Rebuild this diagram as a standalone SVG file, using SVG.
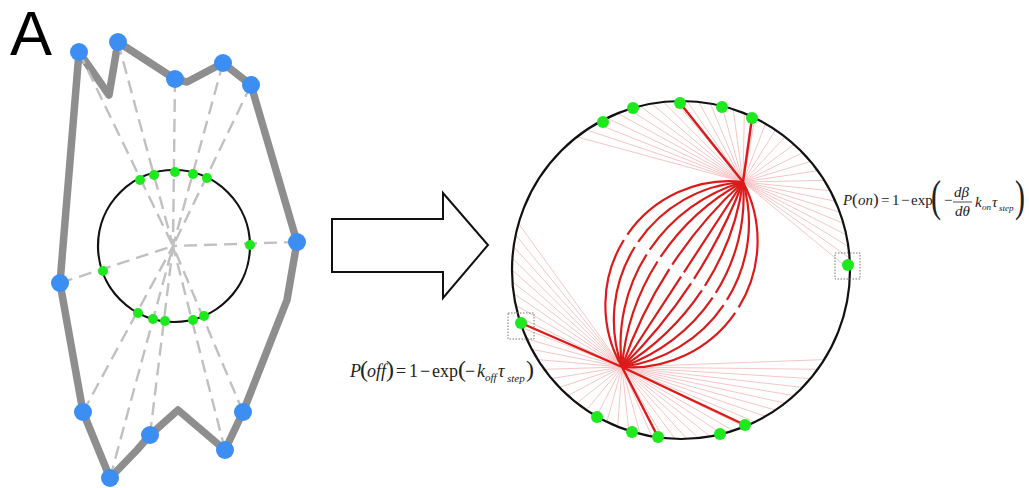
<svg xmlns="http://www.w3.org/2000/svg" width="1029" height="488" viewBox="0 0 1029 488">
<style>
.poly{fill:none;stroke:#8e8e8e;stroke-width:7.5;stroke-linejoin:round;stroke-linecap:round}
.blue{fill:#3d8ef2}
.green{fill:#1ee81e}
.dash{fill:none;stroke:#c0c0c0;stroke-width:2.4;stroke-dasharray:13 7}
.cell{fill:none;stroke:#111;stroke-width:2.2}
.ray{fill:none;stroke:#f6c6c6;stroke-width:1}
.mt{fill:none;stroke:#dd1a1a;stroke-width:2.2;stroke-dasharray:48.8 2.4 100}
.kf{fill:none;stroke:#dd1a1a;stroke-width:2.4}
.box{fill:none;stroke:#777;stroke-width:1;stroke-dasharray:1.5 1.5}
.m{font-family:"Liberation Serif","Times New Roman",serif;fill:#222}
.i{font-style:italic}
</style>
<g id="label-A"><text x="10" y="55" font-family="Liberation Sans, Arial, sans-serif" font-size="63" fill="#000">A</text></g>

<g id="left-cell">
  <path class="poly" d="M79 52L109 95L118 42L175 79L187 82L223 63L251 85L297 242L287 300L243 412L225 450L178 410L150 435L137 450L110 478L83 412L60 283Z"/>
  <g id="left-connectors">
    <path class="dash" d="M79 52L173 246M118 42L173 246M175 79L173 246M223 63L173 246M251 85L173 246M297 242L173 246M60 283L173 246M83 412L173 246M110 478L173 246M150 435L173 246M225 450L173 246M243 412L173 246"/>
  </g>
  <circle class="cell" cx="174" cy="246" r="76"/>
  <g id="left-blue-dots" class="blue">
    <circle cx="79" cy="52" r="9"/><circle cx="118" cy="42" r="9"/><circle cx="175" cy="79" r="9"/>
    <circle cx="223" cy="63" r="9"/><circle cx="251" cy="85" r="9"/><circle cx="297" cy="242" r="9"/>
    <circle cx="60" cy="283" r="9"/><circle cx="83" cy="412" r="9"/><circle cx="110" cy="478" r="9"/>
    <circle cx="150" cy="435" r="9"/><circle cx="225" cy="450" r="9"/><circle cx="243" cy="412" r="9"/>
  </g>
  <g id="left-green-dots" class="green">
    <circle cx="140" cy="180" r="5"/><circle cx="154" cy="175" r="5"/><circle cx="175" cy="172" r="5"/>
    <circle cx="193" cy="174" r="5"/><circle cx="207" cy="178" r="5"/><circle cx="250" cy="245" r="5"/>
    <circle cx="103" cy="271" r="5"/><circle cx="138" cy="313" r="5"/><circle cx="153" cy="319" r="5"/>
    <circle cx="165" cy="321" r="5"/><circle cx="193" cy="320" r="5"/><circle cx="204" cy="316" r="5"/>
  </g>
</g>

<g id="arrow">
  <polygon points="332,219 443,219 443,193 488,245 443,298 443,272 332,272" fill="#fff" stroke="#111" stroke-width="2" stroke-linejoin="miter"/>
</g>

<g id="right-cell">
  <g id="rays">
    <path class="ray" d="M743 182L850 270M743 182L849.6 258.2M743 182L848.4 246.5M743 182L846.3 234.9M743 182L843.5 223.4M743 182L839.8 212.2M743 182L835.4 201.3M743 182L830.2 190.7M743 182L824.3 180.4M743 182L817.7 170.7M743 182L810.5 161.4M743 182L802.6 152.6M743 182L794.1 144.4M743 182L785.1 136.8M743 182L775.5 129.9M743 182L765.5 123.6M743 182L755.1 118.1M743 182L744.3 113.3M743 182L733.2 109.3M743 182L721.9 106M743 182L710.3 103.6M743 182L698.7 101.9M743 182L686.9 101.1M743 182L675.1 101.1M743 182L663.3 101.9M743 182L651.7 103.6M743 182L640.1 106M743 182L628.8 109.3M743 182L617.7 113.3M743 182L606.9 118.1M743 182L596.5 123.6M743 182L586.5 129.9M743 182L576.9 136.8"/>
    <path class="ray" d="M622 367L824.3 359.6M622 367L817.7 369.3M622 367L810.5 378.6M622 367L802.6 387.4M622 367L794.1 395.6M622 367L785.1 403.2M622 367L775.5 410.1M622 367L765.5 416.4M622 367L755.1 421.9M622 367L744.3 426.7M622 367L733.2 430.7M622 367L721.9 434M622 367L710.3 436.4M622 367L698.7 438.1M622 367L686.9 438.9M622 367L675.1 438.9M622 367L663.3 438.1M622 367L651.7 436.4M622 367L640.1 434M622 367L628.8 430.7M622 367L617.7 426.7M622 367L606.9 421.9M622 367L596.5 416.4M622 367L586.5 410.1M622 367L576.9 403.2M622 367L567.9 395.6M622 367L559.4 387.4M622 367L551.5 378.6M622 367L544.3 369.3M622 367L537.7 359.6M622 367L531.8 349.3M622 367L526.6 338.7M622 367L522.2 327.8M622 367L518.5 316.6M622 367L515.7 305.1M622 367L513.6 293.5M622 367L512.4 281.8M622 367L512 270M622 367L512.4 258.2M622 367L513.6 246.5M622 367L515.7 234.9M622 367L518.5 223.4"/>
  </g>
  <circle class="cell" cx="681" cy="270" r="169" stroke-width="2.5"/>
  <g id="spindle">
    <path class="mt" pathLength="100" d="M622 367A123.8 123.8 0 0 1 743 182"/>
    <path class="mt" pathLength="100" d="M622 367A138.5 138.5 0 0 1 743 182"/>
    <path class="mt" pathLength="100" d="M622 367A169.4 169.4 0 0 1 743 182"/>
    <path class="mt" pathLength="100" d="M622 367A232 232 0 0 1 743 182"/>
    <path class="mt" pathLength="100" d="M622 367A443 443 0 0 1 743 182"/>
    <path class="mt" pathLength="100" d="M622 367L743 182"/>
    <path class="mt" pathLength="100" d="M622 367A515 515 0 0 0 743 182"/>
    <path class="mt" pathLength="100" d="M622 367A257 257 0 0 0 743 182"/>
    <path class="mt" pathLength="100" d="M622 367A180 180 0 0 0 743 182"/>
    <path class="mt" pathLength="100" d="M622 367A145 145 0 0 0 743 182"/>
    <path class="mt" pathLength="100" d="M622 367A126.4 126.4 0 0 0 743 182"/>
  </g>
  <g id="attached-fibres">
    <path class="kf" d="M743 182L680 103M743 182L752 118M622 367L521 323M622 367L658 437M622 367L745 425"/>
  </g>
  <g id="right-green-dots" class="green">
    <circle cx="603" cy="122" r="6"/><circle cx="633" cy="108" r="6"/><circle cx="680" cy="103" r="6"/>
    <circle cx="722" cy="107" r="6"/><circle cx="752" cy="118" r="6"/><circle cx="848" cy="265" r="6"/>
    <circle cx="521" cy="323" r="6"/><circle cx="597" cy="417" r="6"/><circle cx="632" cy="432" r="6"/>
    <circle cx="658" cy="437" r="6"/><circle cx="720" cy="434" r="6"/><circle cx="745" cy="425" r="6"/>
  </g>
  <rect class="box" x="508" y="313" width="26" height="26"/>
  <rect class="box" x="835" y="253" width="25" height="26"/>
</g>

<g id="formula-off">
  <text class="m" font-size="18" y="377"><tspan x="350" class="i">P</tspan><tspan x="360" font-size="24">(</tspan><tspan x="367" class="i">off</tspan><tspan x="386" font-size="24">)</tspan><tspan x="396">=</tspan><tspan x="409">1</tspan><tspan x="420">−</tspan><tspan x="432">exp</tspan><tspan x="458" font-size="24">(</tspan><tspan x="465">−</tspan><tspan x="477" class="i">k</tspan><tspan x="485" y="381" font-size="11" class="i">off</tspan><tspan x="498" y="377" class="i">τ</tspan><tspan x="507" y="382" font-size="11" class="i">step</tspan><tspan x="526" y="377" font-size="24">)</tspan></text>
</g>

<g id="formula-on">
  <text class="m" font-size="15" y="205"><tspan x="843" class="i">P</tspan><tspan x="852" font-size="17">(</tspan><tspan x="858" class="i">on</tspan><tspan x="873" font-size="17">)</tspan><tspan x="881">=</tspan><tspan x="892">1</tspan><tspan x="901">−</tspan><tspan x="911">exp</tspan><tspan x="931" y="211" font-size="44" textLength="10" lengthAdjust="spacingAndGlyphs">(</tspan><tspan x="944" y="205">−</tspan><tspan x="954" y="197" class="i">dβ</tspan><tspan x="955" y="216" class="i">dθ</tspan><tspan x="975" y="207" class="i">k</tspan><tspan x="982" y="210" font-size="9" class="i">on</tspan><tspan x="992" y="207" class="i">τ</tspan><tspan x="999" y="211" font-size="9" class="i">step</tspan><tspan x="1015" y="211" font-size="44" textLength="10" lengthAdjust="spacingAndGlyphs">)</tspan></text>
  <line x1="953" y1="202" x2="972" y2="202" stroke="#222" stroke-width="0.8"/>
</g>
</svg>
